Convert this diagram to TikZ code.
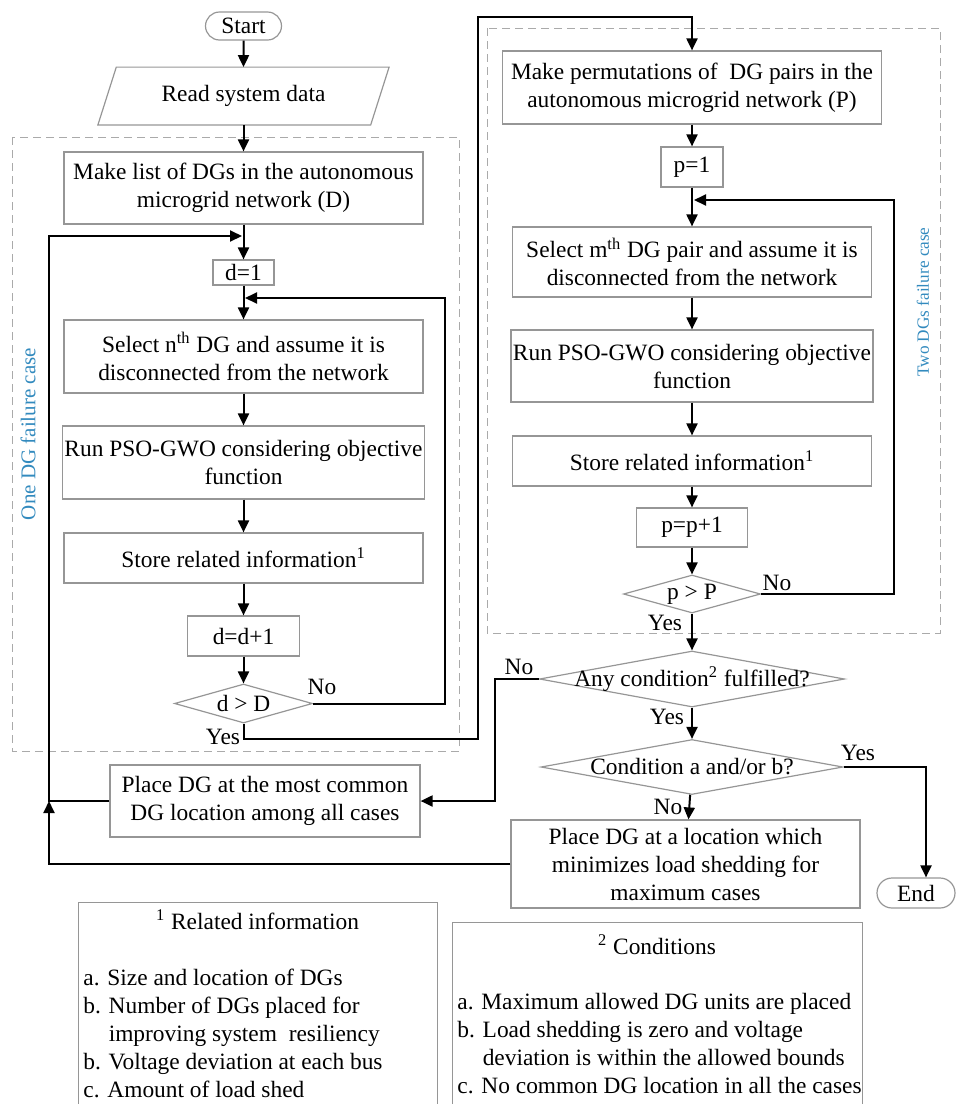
\documentclass[tikz,border=0pt]{standalone}
\usepackage{fontspec}
\setmainfont{Liberation Serif}
\usetikzlibrary{arrows.meta, shapes.geometric, shapes.misc}
\definecolor{boxgray}{RGB}{150,150,150}
\definecolor{casegray}{RGB}{170,170,170}
\definecolor{caseblue}{RGB}{50,138,190}
\tikzset{
  procbox/.style={
    draw=boxgray,
    line width=0.6pt,
    align=center,
    inner sep=1pt
  },
  termbox/.style={
    draw=boxgray,
    line width=0.6pt,
    rounded rectangle,
    inner sep=1pt,
    minimum height=14pt
  },
  iobox/.style={
    align=center,
    inner sep=1pt
  },
  decision/.style={draw=boxgray, line width=0.6pt, diamond, inner sep=0pt},
  casebox/.style={draw=casegray, line width=0.5pt, dash pattern=on 4pt off 2.5pt},
  caselabel/.style={text=caseblue, rotate=90, inner sep=0pt},
  yesno/.style={inner sep=0pt},
  arrow/.style={-{Triangle[length=6pt,width=5.5pt]}, line width=1pt}
}

\begin{document}
\begin{tikzpicture}[
    x=0.5pt, y=-0.5pt,
    font=\fontsize{11.7}{14}\selectfont
]
\useasboundingbox (0,0) rectangle (956,1104);
\clip (0,0) rectangle (956,1104);

% failure case frames
\draw[casebox] (12,137) rectangle (459,751);
\draw[casebox] (487,28) rectangle (940,633);
\node[caselabel, font=\fontsize{10.5}{12}\selectfont] (onecase) at (28,434) {One DG failure case};
\node[caselabel, font=\fontsize{8.6}{10}\selectfont] (twocase) at (923,302) {Two DGs failure case};

% one DG failure column
\node[termbox, minimum width=40pt] (start) at (243.5,26) {Start};
\node[iobox, minimum width=136pt, minimum height=28.5pt] (read) at (243.5,96) {Read system data};
\draw[boxgray, line width=0.6pt] ([xshift=-4.6pt]read.south west) -- ([xshift=-4.6pt]read.south east)
  -- ([xshift=4.6pt]read.north east) -- ([xshift=4.6pt]read.north west) -- cycle;
\node[procbox, minimum width=179.5pt, minimum height=36pt] (listd) at (243.5,188)
{Make list of DGs in the autonomous\\microgrid network (D)};
\node[procbox, minimum width=30.5pt, minimum height=12.5pt] (dfirst) at (243.5,272.5) {d=1};
\node[procbox, minimum width=179.5pt, minimum height=36.5pt] (seln) at (243.5,356.5)
{Select n\textsuperscript{th} DG and assume it is\\disconnected from the network};
\node[procbox, minimum width=179.5pt, minimum height=36.5pt] (runn) at (243.5,462.5)
{Run PSO-GWO considering objective\\function};
\node[procbox, minimum width=179.5pt, minimum height=25pt] (storen) at (243.5,558)
{Store related information\textsuperscript{1}};
\node[procbox, minimum width=56pt, minimum height=20pt] (dnext) at (243.5,636) {d=d+1};
\node[decision, minimum width=69pt, minimum height=19.5pt] (dcheck) at (243.5,703.5) {\makebox[0pt]{d > D}};
\node[procbox, minimum width=155pt, minimum height=36pt] (common) at (265,801)
{Place DG at the most common\\DG location among all cases};

% two DGs failure column
\node[procbox, minimum width=189.5pt, minimum height=36.5pt] (pairs) at (692,87.5)
{Make permutations of\ \ DG pairs in the\\autonomous microgrid network (P)};
\node[procbox, minimum width=31pt, minimum height=20pt] (pfirst) at (692,167) {p=1};
\node[procbox, minimum width=179.5pt, minimum height=35pt] (selm) at (692,262)
{Select m\textsuperscript{th} DG pair and assume it is\\disconnected from the network};
\node[procbox, minimum width=179.5pt, minimum height=36pt] (runm) at (692,366)
{Run PSO-GWO considering objective\\function};
\node[procbox, minimum width=179.5pt, minimum height=25pt] (storem) at (692,461)
{Store related information\textsuperscript{1}};
\node[procbox, minimum width=55.5pt, minimum height=19.5pt] (pnext) at (692,527.5) {p=p+1};
\node[decision, minimum width=68.5pt, minimum height=19pt] (pcheck) at (692,594) {\makebox[0pt]{p > P}};

% final decisions
\node[decision, minimum width=152.5pt, minimum height=28pt] (anycond) at (692,679)
{\makebox[0pt]{Any condition\textsuperscript{2} fulfilled?}};
\node[decision, minimum width=151pt, minimum height=27.5pt] (condab) at (692,767)
{\makebox[0pt]{Condition a and/or b?}};
\node[procbox, minimum width=174.5pt, minimum height=44pt] (minshed) at (685.5,864)
{Place DG at a location which\\minimizes load shedding for\\maximum cases};
\node[termbox, minimum width=41pt, minimum height=15pt] (finish) at (916,893) {End};

% yes / no
\node[yesno] (dno) at (322,687) {No};
\node[yesno] (dyes) at (223,737) {Yes};
\node[yesno] (pno) at (777,583) {No};
\node[yesno] (pyes) at (665,623) {Yes};
\node[yesno] (anyno) at (519,667) {No};
\node[yesno] (anyyes) at (667,717) {Yes};
\node[yesno] (abyes) at (858,753) {Yes};
\node[yesno] (abno) at (668,807) {No};

% notes
\node[procbox, anchor=north west, minimum width=179.5pt, minimum height=110pt] (relbox) at (78,902) {};
\node (reltitle) at (257.5,920) {\textsuperscript{1} Related information};
\node[anchor=north west, align=left, inner sep=0pt] (rellist) at (83,969)
{a. Size and location of DGs\\b. Number of DGs placed for\\\phantom{b. }improving system\ \ resiliency\\b. Voltage deviation at each bus\\c. Amount of load shed};
\node[procbox, anchor=north west, minimum width=205pt, minimum height=100pt] (condbox) at (452,922) {};
\node (condtitle) at (657,945) {\textsuperscript{2} Conditions};
\node[anchor=north west, align=left, inner sep=0pt] (condlist) at (457,993)
{a. Maximum allowed DG units are placed\\b. Load shedding is zero and voltage\\\phantom{b. }deviation is within the allowed bounds\\c. No common DG location in all the cases};

% turning points
\coordinate (dloopturn) at (445,298);
\coordinate (dloopend) at (245,298);
\coordinate (yesturn) at (478,739);
\coordinate (topturn) at (478,17);
\coordinate (ploopturn) at (894,200);
\coordinate (ploopend) at (694,200);
\coordinate (noturn) at (495,801);
\coordinate (yesend) at (926,767);
\coordinate (backjoin) at (49,801);
\coordinate (backtop) at (49,236);
\coordinate (backend) at (242,236);

\draw[arrow] (start) -- (read);
\draw[arrow] (read) -- (listd);
\draw[arrow] (listd) -- (dfirst);
\draw[arrow] (dfirst) -- (seln);
\draw[arrow] (seln) -- (runn);
\draw[arrow] (runn) -- (storen);
\draw[arrow] (storen) -- (dnext);
\draw[arrow] (dnext) -- (dcheck);
\draw[arrow] (dcheck.east) -| (dloopturn) -- (dloopend);
\draw[arrow] (dcheck.south) |- (yesturn) -- (topturn) -| (pairs.north);

\draw[arrow] (pairs) -- (pfirst);
\draw[arrow] (pfirst) -- (selm);
\draw[arrow] (selm) -- (runm);
\draw[arrow] (runm) -- (storem);
\draw[arrow] (storem) -- (pnext);
\draw[arrow] (pnext) -- (pcheck);
\draw[arrow] (pcheck.east) -| (ploopturn) -- (ploopend);
\draw[arrow] (pcheck) -- (anycond);

\draw[arrow] (anycond.west) -| (noturn) -- (common.east);
\draw[arrow] (anycond) -- (condab);
\draw[arrow] (condab.east) -- (yesend) -- (yesend |- finish.north);
\draw[arrow] (condab) -- (minshed);
\draw[arrow] (minshed.west) -| (backjoin);
\draw[arrow] (common.west) -| (backtop) -- (backend);
\end{tikzpicture}
\end{document}
